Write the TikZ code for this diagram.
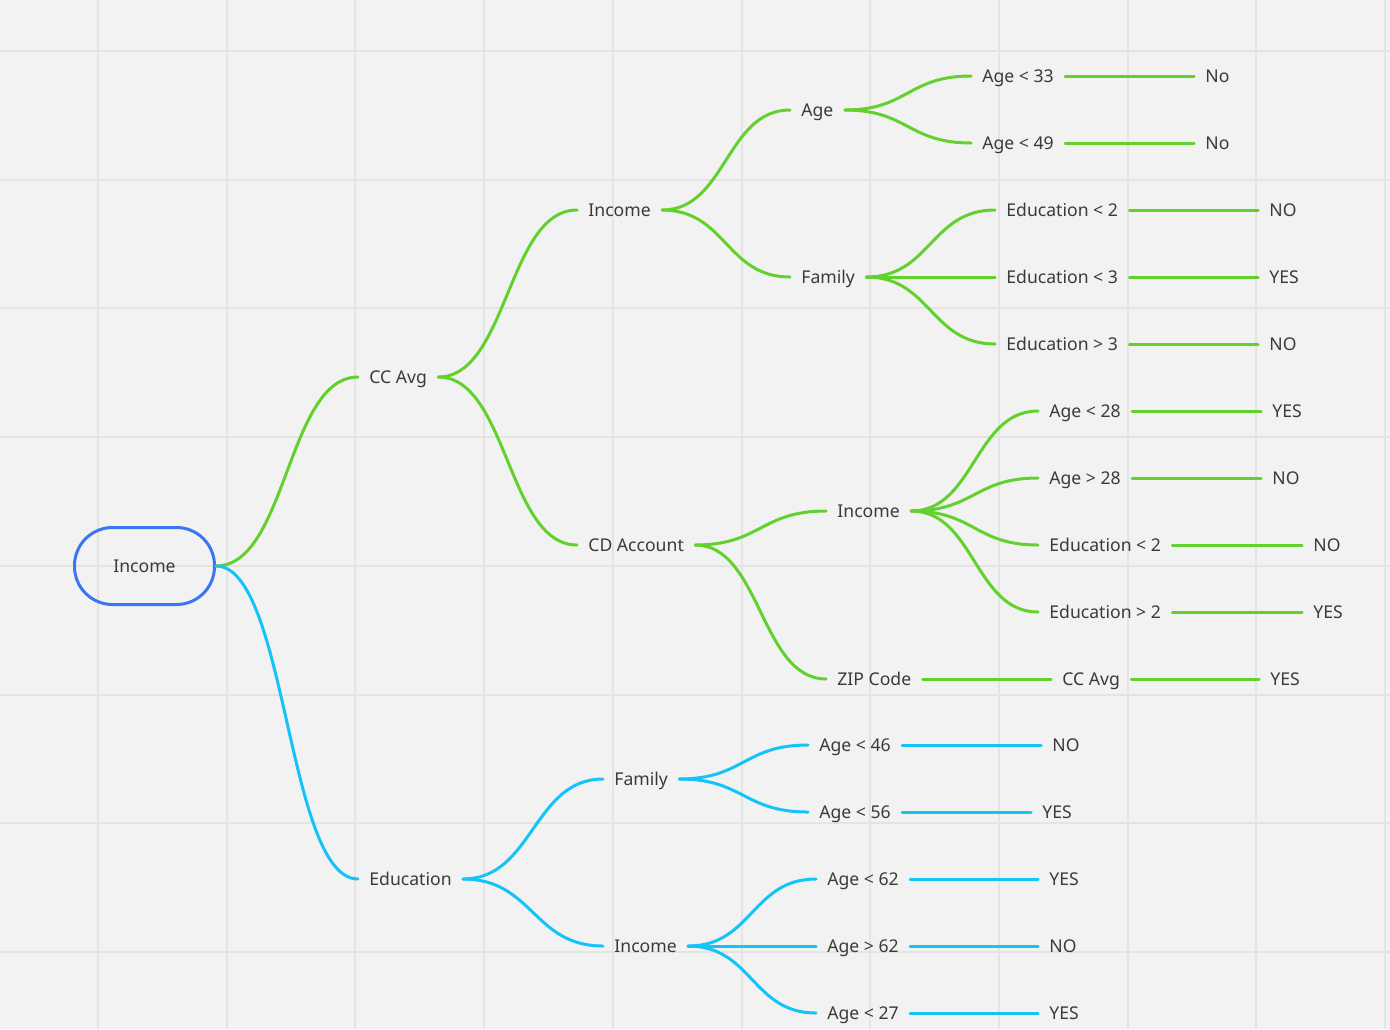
\documentclass[tikz,border=0pt]{standalone}
\usepackage{fontspec}
\setmainfont{Noto Sans}
\usetikzlibrary{calc}
\definecolor{bggray}{HTML}{F2F2F2}
\definecolor{gridgray}{HTML}{E4E4E4}
\definecolor{leafgreen}{HTML}{62D12E}
\definecolor{edublue}{HTML}{14C3F8}
\definecolor{rootblue}{HTML}{3A76F4}
\definecolor{txtgray}{HTML}{3A3A3A}
\begin{document}
\begin{tikzpicture}[x=0.5pt,y=-0.5pt, line join=round, line cap=round,
	font=\fontsize{8.8}{10}\selectfont,
	item/.style={anchor=west, text=txtgray, inner xsep=5.5pt, inner ysep=0pt, text height=6.3pt, text depth=0pt},
	branch/.style={line width=1.5pt, to path={let \p1=(\tikztostart), \p2=(\tikztotarget) in
		(\p1) .. controls ({0.5*\x1+0.5*\x2},\y1) and ({0.5*\x1+0.5*\x2},\y2) .. (\p2)}},
	gbr/.style={branch, draw=leafgreen},
	bbr/.style={branch, draw=edublue}]
	\def\xmax{1390} \def\ymax{1029}
	\useasboundingbox (0,0) rectangle (\xmax,\ymax);
	\fill[bggray] (0,0) rectangle (\xmax,\ymax);
	\foreach \gx in {98,226.7,...,1390} \draw[gridgray, line width=1pt, line cap=butt] (\gx,0)--(\gx,\ymax);
	\foreach \gy in {51,179.7,...,1029} \draw[gridgray, line width=1pt, line cap=butt] (0,\gy)--(\xmax,\gy);
	% root
	\node[draw=rootblue, line width=1.5pt, rounded corners=19pt, minimum width=70pt, minimum height=38.5pt,
		inner sep=0pt, text=txtgray, text height=6.3pt, text depth=0pt] (root) at (144.5,566) {Income};
	% green part
	\node[item] (ccavg) at (358,377) {CC Avg};
	\node[item] (inc1) at (577,210) {Income};
	\node[item] (cdacc) at (577,545) {CD Account};
	\node[item] (age1) at (790,110) {Age};
	\node[item] (fam1) at (790,277) {Family};
	\node[item] (inc2) at (826,511) {Income};
	\node[item] (zip) at (826,679) {ZIP Code};
	\node[item] (age33) at (971,76) {Age < 33};
	\node[item] (age49) at (971,143) {Age < 49};
	\node[item] (edu2a) at (995,210) {Education < 2};
	\node[item] (edu3a) at (995,277) {Education < 3};
	\node[item] (edu3b) at (995,344) {Education > 3};
	\node[item] (age28a) at (1038,411) {Age < 28};
	\node[item] (age28b) at (1038,478) {Age > 28};
	\node[item] (edu2b) at (1038,545) {Education < 2};
	\node[item] (edu2c) at (1038,612) {Education > 2};
	\node[item] (ccavg2) at (1051,679) {CC Avg};
	\node[item] (res1) at (1194,76) {No};
	\node[item] (res2) at (1194,143) {No};
	\node[item] (res3) at (1258,210) {NO};
	\node[item] (res4) at (1258,277) {YES};
	\node[item] (res5) at (1258,344) {NO};
	\node[item] (res6) at (1261,411) {YES};
	\node[item] (res7) at (1261,478) {NO};
	\node[item] (res8) at (1302,545) {NO};
	\node[item] (res9) at (1302,612) {YES};
	\node[item] (res10) at (1259,679) {YES};
	% blue part
	\node[item] (edu) at (358,879) {Education};
	\node[item] (fam2) at (603,779) {Family};
	\node[item] (inc3) at (603,946) {Income};
	\node[item] (age46) at (808,745) {Age < 46};
	\node[item] (age56) at (808,812) {Age < 56};
	\node[item] (age62a) at (816,879) {Age < 62};
	\node[item] (age62b) at (816,946) {Age > 62};
	\node[item] (age27) at (816,1013) {Age < 27};
	\node[item] (res11) at (1041,745) {NO};
	\node[item] (res12) at (1031,812) {YES};
	\node[item] (res13) at (1038,879) {YES};
	\node[item] (res14) at (1038,946) {NO};
	\node[item] (res15) at (1038,1013) {YES};
	% connectors
	\foreach \a/\b in {root/ccavg, ccavg/inc1, ccavg/cdacc, inc1/age1, inc1/fam1, cdacc/inc2, cdacc/zip,
		age1/age33, age1/age49, fam1/edu2a, fam1/edu3a, fam1/edu3b, inc2/age28a, inc2/age28b, inc2/edu2b, inc2/edu2c,
		zip/ccavg2, age33/res1, age49/res2, edu2a/res3, edu3a/res4, edu3b/res5, age28a/res6, age28b/res7,
		edu2b/res8, edu2c/res9, ccavg2/res10}
		\draw[gbr] (\a.east) to (\b.west);
	\foreach \a/\b in {root/edu, edu/fam2, edu/inc3, fam2/age46, fam2/age56, inc3/age62a, inc3/age62b, inc3/age27,
		age46/res11, age56/res12, age62a/res13, age62b/res14, age27/res15}
		\draw[bbr] (\a.east) to (\b.west);
\end{tikzpicture}
\end{document}
